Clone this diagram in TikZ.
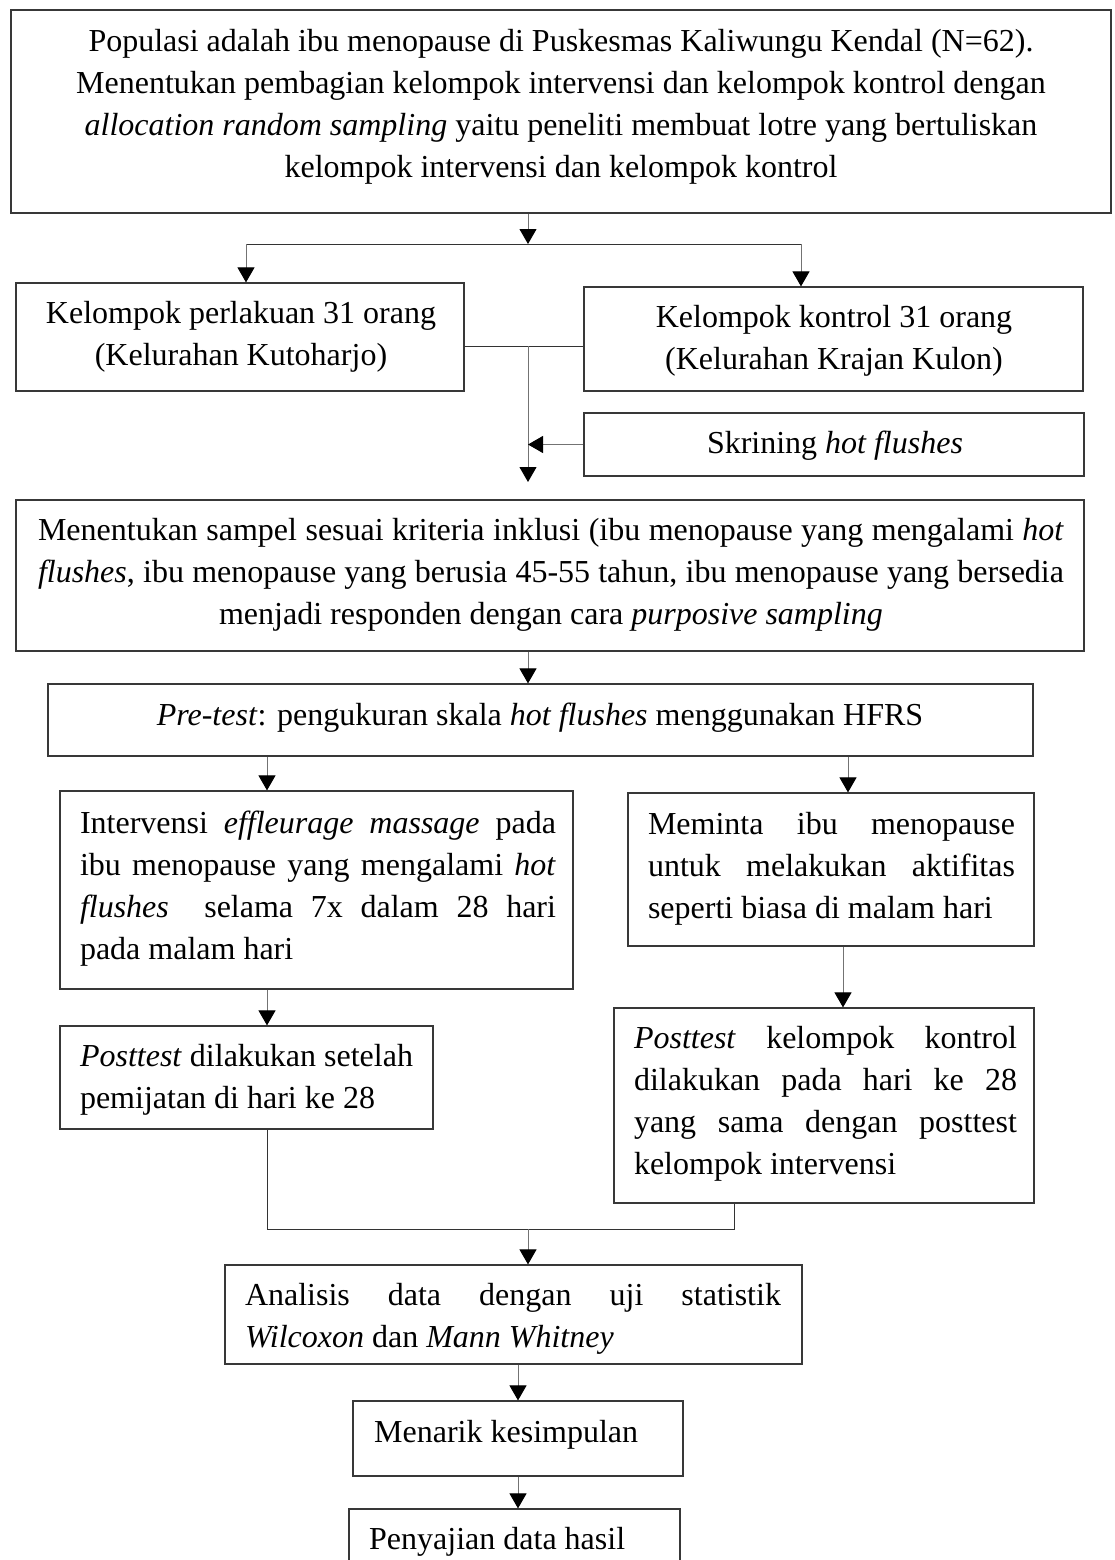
\documentclass[tikz,border=0pt]{standalone}
\usepackage{fontspec}
\setmainfont{Liberation Serif}
\usetikzlibrary{arrows.meta}
\newcommand\jline[2]{\makebox[#1][s]{\spaceskip=0pt\xspaceskip=0pt #2}}
\begin{document}
\begin{tikzpicture}[x=1pt,y=-1pt,
  box/.style={draw=black!78, line width=1.2pt, inner sep=0pt},
  txt/.style={inner sep=0pt, font=\fontsize{32pt}{42pt}\selectfont},
  ln/.style={draw=black!55, line width=1pt},
  hln/.style={draw=black!80, line width=1pt},
  arr/.style={ln, -{Triangle[length=15pt,width=17pt,color=black]}}]
\useasboundingbox (0,0) rectangle (1115,1560);
\fill[white] (0,0) rectangle (1115,1560);
\clip (0,0) rectangle (1115,1560);

% boxes
\node[box, minimum width=1100pt, minimum height=203pt] (top) at (561,111.5) {};
\node[box, minimum width=448pt, minimum height=108pt] (kp) at (240,337) {};
\node[box, minimum width=499pt, minimum height=104pt] (kk) at (833.5,339) {};
\node[box, minimum width=500pt, minimum height=63pt] (skr) at (834,444.5) {};
\node[box, minimum width=1068pt, minimum height=151pt] (samp) at (550,575.5) {};
\node[box, minimum width=985pt, minimum height=72pt] (pre) at (540.5,720) {};
\node[box, minimum width=513pt, minimum height=198pt] (intv) at (316.5,890) {};
\node[box, minimum width=406pt, minimum height=153pt] (mem) at (831,869.5) {};
\node[box, minimum width=373pt, minimum height=103pt] (postL) at (246.5,1077.5) {};
\node[box, minimum width=420pt, minimum height=195pt] (postR) at (824,1105.5) {};
\node[box, minimum width=577pt, minimum height=99pt] (anl) at (513.5,1314.5) {};
\node[box, minimum width=330pt, minimum height=75pt] (mnr) at (518,1438.5) {};
\node[box, minimum width=331pt, minimum height=91pt] (pny) at (514.5,1554.5) {};

% texts
\node[txt, align=flush center] (ttop) at (561,107) {Populasi adalah ibu menopause di Puskesmas Kaliwungu Kendal (N=62).\\
Menentukan pembagian kelompok intervensi dan kelompok kontrol dengan\\
\textit{allocation random sampling} yaitu peneliti membuat lotre yang bertuliskan\\
kelompok intervensi dan kelompok kontrol};
\node[txt, align=flush center] (tkp) at (241,337) {Kelompok perlakuan 31 orang\\(Kelurahan Kutoharjo)};
\node[txt, align=flush center] (tkk) at (834,341) {Kelompok kontrol 31 orang\\(Kelurahan Krajan Kulon)};
\node[txt] (tskr) at (835,446) {Skrining \textit{hot flushes}};
\node[txt, text width=1026pt, align=flush left] (tsamp) at (551,575) {%
\jline{1026pt}{Menentukan sampel sesuai kriteria inklusi (ibu menopause yang mengalami \textit{hot}}\\
\jline{1026pt}{\textit{flushes}, ibu menopause yang berusia 45-55 tahun, ibu menopause yang bersedia}\\
\makebox[1026pt][c]{menjadi responden dengan cara \textit{purposive sampling}}};
\node[txt] (tpre) at (540,718) {\textit{Pre-test}: pengukuran skala \textit{hot flushes} menggunakan HFRS};
\node[txt, text width=476pt, align=flush left] (tintv) at (318,889) {%
\jline{476pt}{Intervensi \textit{effleurage massage} pada}\\
\jline{476pt}{ibu menopause yang mengalami \textit{hot}}\\
\jline{476pt}{\textit{flushes}\ \ selama 7x dalam 28 hari}\\
pada malam hari};
\node[txt, text width=367pt, align=flush left] (tmem) at (831.5,869) {%
\jline{367pt}{Meminta ibu menopause}\\
\jline{367pt}{untuk melakukan aktifitas}\\
seperti biasa di malam hari};
\node[txt, text width=340pt, align=flush left] (tpostL) at (250,1080) {%
\textit{Posttest} dilakukan setelah\\
pemijatan di hari ke 28};
\node[txt, text width=383pt, align=flush left] (tpostR) at (825.5,1104) {%
\jline{383pt}{\textit{Posttest} kelompok kontrol}\\
\jline{383pt}{dilakukan pada hari ke 28}\\
\jline{383pt}{yang sama dengan posttest}\\
kelompok intervensi};
\node[txt, text width=536pt, align=flush left] (tanl) at (513,1319) {%
\jline{536pt}{Analisis data dengan uji statistik}\\
\textit{Wilcoxon} dan \textit{Mann Whitney}};
\node[txt, anchor=west] (tmnr) at (374,1435) {Menarik kesimpulan};
\node[txt, anchor=west] (tpny) at (369,1542) {Penyajian data hasil};

% junction coordinates
\coordinate (s1) at (528,244);
\coordinate (sL) at (246,244);
\coordinate (sR) at (801,244);
\coordinate (m1) at (528,346);
\coordinate (m2) at (528,482);
\coordinate (xa) at (267,0);
\coordinate (xb) at (848,0);
\coordinate (xc) at (843,0);
\coordinate (j) at (528,1229);
\coordinate (xd) at (734,0);

% connectors
\draw[arr] (top.south -| s1) -- (s1);
\draw[hln] (sL) -- (sR);
\draw[arr] (sL) -- (sL |- kp.north);
\draw[arr] (sR) -- (sR |- kk.north);
\draw[hln] (m1 -| kp.east) -- (m1 -| kk.west);
\draw[arr] (m1) -- (m2);
\draw[arr] (skr.west) -- (skr.west -| m1);
\draw[arr] (samp.south -| m1) -- (pre.north -| m1);
\draw[arr] (pre.south -| xa) -- (intv.north -| xa);
\draw[arr] (pre.south -| xb) -- (mem.north -| xb);
\draw[arr] (intv.south -| xa) -- (postL.north -| xa);
\draw[arr] (mem.south -| xc) -- (postR.north -| xc);
\draw[hln] (postL.south -| xa) -- (xa |- j) -- (xd |- j) -- (postR.south -| xd);
\draw[arr] (j) -- (anl.north -| j);
\draw[arr] (anl.south -| mnr.north) -- (mnr.north);
\draw[arr] (mnr.south) -- (pny.north -| mnr.south);
\end{tikzpicture}
\end{document}
